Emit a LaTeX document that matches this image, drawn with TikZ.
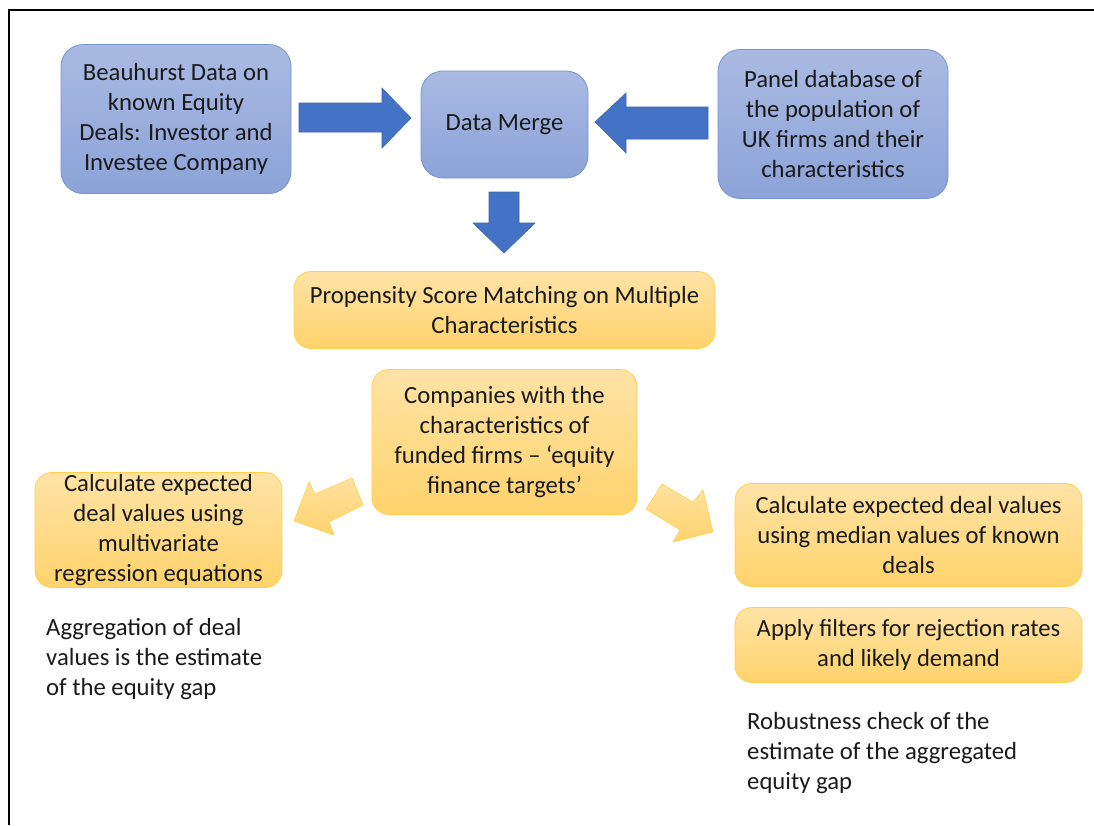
\documentclass[tikz,border=0pt]{standalone}
\usepackage{fontspec}
\setmainfont{Carlito}
\definecolor{bluetop}{HTML}{AABAE2}
\definecolor{bluebot}{HTML}{8CA3D8}
\definecolor{blueedge}{HTML}{7393D2}
\definecolor{arrowblue}{HTML}{4472C4}
\definecolor{arrowblueedge}{HTML}{3A66B5}
\definecolor{ortop}{HTML}{FFE3A6}
\definecolor{orbot}{HTML}{FFD36C}
\definecolor{oredge}{HTML}{FFCF4A}
\definecolor{txt}{HTML}{1A1A1A}
\begin{document}
\begin{tikzpicture}[x=1pt,y=-1pt,
  every node/.style={font=\fontsize{24.7}{30}\selectfont, text=txt},
  bluebox/.style={draw=blueedge, line width=0.8pt, rounded corners=22pt,
    top color=bluetop, bottom color=bluebot, align=center, inner sep=0pt},
  orbox/.style={draw=oredge, line width=0.8pt, rounded corners=17pt,
    top color=ortop, bottom color=orbot, align=center, inner sep=0pt},
  bluearrow/.style={fill=arrowblue, draw=arrowblueedge, line width=0.6pt, line join=miter},
  orarrow/.style={top color=ortop!90!orbot, bottom color=orbot, draw=oredge, line width=0.6pt, line join=miter},
  plain/.style={align=left, anchor=north west, inner sep=0pt}
]
\useasboundingbox (0,0) rectangle (1094,825);
% frame
\draw[line width=1.4pt] (9,825) -- (9,10) -- (1094,10);

% blue boxes
\node[bluebox, minimum width=230pt, minimum height=149pt] (beau) at (176,119)
  {Beauhurst Data on\\known Equity\\Deals: Investor and\\Investee Company};
\node[bluebox, minimum width=167pt, minimum height=107pt] (merge) at (504.5,124.5)
  {Data Merge};
\node[bluebox, minimum width=230pt, minimum height=149pt] (panel) at (833,124)
  {Panel database of\\the population of\\UK firms and their\\characteristics};

% blue block arrows
\draw[bluearrow] (299,103) -- (382,103) -- (382,88) -- (411,118) -- (382,148) -- (382,132) -- (299,132) -- cycle;
\draw[bluearrow] (708,107) -- (626,107) -- (626,93) -- (595,122) -- (626,153) -- (626,139) -- (708,139) -- cycle;
\draw[bluearrow] (489,192) -- (519,192) -- (519,223) -- (535,223) -- (504,253) -- (473,223) -- (489,223) -- cycle;

% orange boxes
\node[orbox, minimum width=421pt, minimum height=77pt] (psm) at (504.5,310)
  {Propensity Score Matching on Multiple\\Characteristics};
\node[orbox, minimum width=265pt, minimum height=145pt] (comp) at (504.5,442)
  {Companies with the\\characteristics of\\funded firms -- `equity\\finance targets'};
\node[orbox, minimum width=247pt, minimum height=115pt] (calcl) at (158.5,530)
  {Calculate expected\\deal values using\\multivariate\\regression equations};
\node[orbox, minimum width=347pt, minimum height=103pt] (calcr) at (908.5,535)
  {Calculate expected deal values\\using median values of known\\deals};
\node[orbox, minimum width=347pt, minimum height=75pt] (filt) at (908.5,645)
  {Apply filters for rejection rates\\and likely demand};

% orange block arrows
\draw[orarrow] (352,478) -- (363,505) -- (329,522) -- (334,535) -- (294,521) -- (309,482) -- (315,494) -- cycle;
\draw[orarrow] (662,484) -- (693,502) -- (703,490) -- (713,532) -- (673,542) -- (680,530) -- (646,509) -- cycle;

% plain texts
\node[plain] (agg) at (46,618) {Aggregation of deal\\values is the estimate\\of the equity gap};
\node[plain] (rob) at (747,712) {Robustness check of the\\estimate of the aggregated\\equity gap};
\end{tikzpicture}
\end{document}
